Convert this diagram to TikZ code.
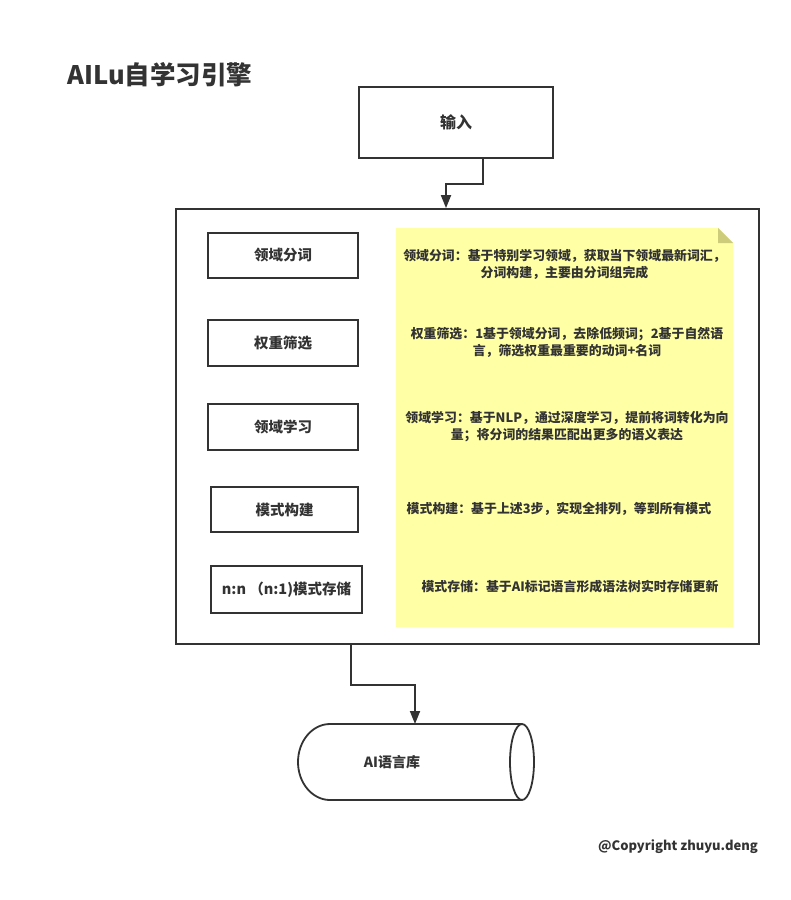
\documentclass[tikz,border=0pt]{standalone}
\usepackage{fontspec}
\setmainfont{Noto Sans CJK SC}
\usetikzlibrary{arrows.meta}
\definecolor{ink}{HTML}{333333}
\definecolor{notey}{HTML}{FFFFA5}
\definecolor{foldc}{HTML}{CCCC7A}
\begin{document}
\begin{tikzpicture}[x=1pt,y=-1pt,
  box/.style={draw=ink, line width=1.8pt, fill=white, text=ink,
    font=\bfseries\fontsize{14.5}{17}\selectfont, inner sep=0pt},
  notetxt/.style={text=ink, font=\bfseries\fontsize{12.9}{17}\selectfont, align=center},
  link/.style={draw=ink, line width=1.8pt, -{Triangle[length=13pt,width=10pt]}}]
\useasboundingbox (0,0) rectangle (791,900);
\fill[white] (0,0) rectangle (791,900);

% title
\node[text=ink, font=\bfseries\fontsize{25.5}{29}\selectfont, anchor=west] (title) at (64,75) {AILu自学习引擎};

% input
\node[box, minimum width=194pt, minimum height=71pt, font=\bfseries\fontsize{16}{19}\selectfont] (inp) at (456,122.5) {输入};

% outer container
\node[box, minimum width=583pt, minimum height=435pt] (outer) at (467.5,426.5) {};

% left step boxes
\node[box, minimum width=150pt, minimum height=45pt] (s1) at (283,255.5) {领域分词};
\node[box, minimum width=150pt, minimum height=46pt] (s2) at (283,343) {权重筛选};
\node[box, minimum width=150pt, minimum height=46pt] (s3) at (283,427) {领域学习};
\node[box, minimum width=147pt, minimum height=45pt] (s4) at (284.5,509.5) {模式构建};
\node[box, minimum width=151pt, minimum height=47pt] (s5) at (286.5,589.5) {n:n （n:1)模式存储};

% note
\fill[notey] (396,228) -- (718,228) -- (733,243) -- (733,627) -- (396,627) -- cycle;
\fill[foldc] (718,228) -- (733,243) -- (718,243) -- cycle;
\node[notetxt] (n1) at (564.5,264) {领域分词：基于特别学习领域，获取当下领域最新词汇，\\分词构建，主要由分词组完成};
\node[notetxt] (n2) at (567,342) {权重筛选：1基于领域分词，去除低频词；2基于自然语\\言，筛选权重最重要的动词+名词};
\node[notetxt] (n3) at (567,427) {领域学习：基于NLP，通过深度学习，提前将词转化为向\\量；将分词的结果匹配出更多的语义表达};
\node[notetxt] (n4) at (559,509) {模式构建：基于上述3步，实现全排列，等到所有模式};
\node[notetxt] (n5) at (570,587) {模式存储：基于AI标记语言形成语法树实时存储更新};

% cylinder (database)
\draw[ink, line width=1.8pt, fill=white] (522,724) -- (330,724)
  arc[start angle=90, end angle=270, x radius=32pt, y radius=38pt] -- (522,800);
\draw[ink, line width=1.8pt] (522,762) ellipse [x radius=12pt, y radius=38pt];
\node[text=ink, font=\bfseries\fontsize{14}{17}\selectfont] (db) at (392,762) {AI语言库};
\coordinate (dbtop) at (415,724);

% connectors
\coordinate (k1) at (446,184);
\draw[link] ([xshift=27pt]inp.south) |- (k1) -- (k1 |- outer.north);
\coordinate (k2) at (351,685);
\draw[link] (outer.south -| k2) -- (k2) -| (dbtop);

% copyright
\node[text=ink, font=\bfseries\fontsize{13}{15}\selectfont] (copy) at (678,847) {@Copyright zhuyu.deng};
\end{tikzpicture}
\end{document}
